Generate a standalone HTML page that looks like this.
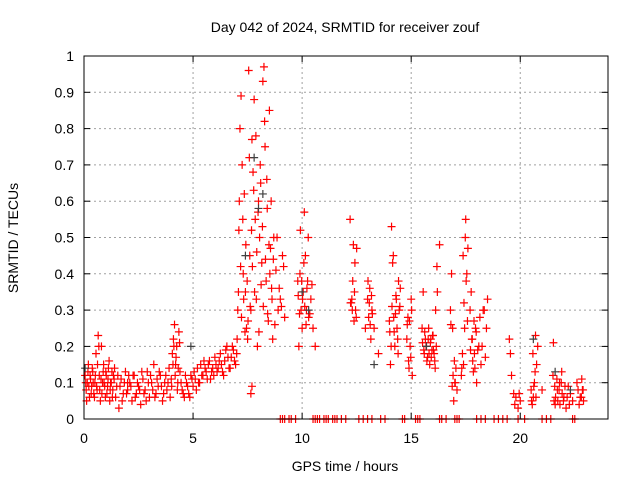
<!DOCTYPE html>
<html><head><meta charset="utf-8">
<style>
body{margin:0;background:#fff;}
svg{display:block;font-family:"Liberation Sans",sans-serif;}
</style></head>
<body>
<svg id="chart" width="640" height="480" xmlns="http://www.w3.org/2000/svg">
<rect width="640" height="480" fill="#fff"/>
<text x="345" y="32" font-size="14" text-anchor="middle">Day 042 of 2024, SRMTID for receiver zouf</text>
<text transform="translate(18,238) rotate(-90)" font-size="14" text-anchor="middle">SRMTID / TECUs</text>
<text x="345" y="471" font-size="14" text-anchor="middle">GPS time / hours</text>
<g id="grid"></g>
<g id="ticks"></g>
<g id="marks"></g>
<rect x="84" y="56" width="524" height="363" fill="none" stroke="#000" stroke-width="1"/>
</svg>
<script>
const xTicks=[0,5,10,15,20];
const yTicks=[0,0.1,0.2,0.3,0.4,0.5,0.6,0.7,0.8,0.9,1];
const yTickLabels=["0","0.1","0.2","0.3","0.4","0.5","0.6","0.7","0.8","0.9","1"];
const redX=[0.05,0.1,0.15,0.2,0.25,0.3,0.35,0.4,0.45,0.5,0.55,0.6,0.65,0.7,0.75,0.8,0.85,0.9,0.95,1.0,1.05,1.1,1.15,1.2,1.25,1.3,1.35,1.4,1.5,1.6,1.7,1.8,1.9,2.0,2.1,2.2,2.3,2.4,2.5,2.6,2.7,2.8,2.9,3.0,3.1,3.2,3.3,3.4,3.5,3.6,3.7,3.8,3.9,4.0,4.05,4.1,4.15,4.2,4.25,4.3,4.35,4.4,4.5,4.6,4.7,4.8,4.9,5.0,5.1,5.2,5.3,5.4,5.5,5.6,5.7,5.8,5.9,6.0,6.1,6.2,6.3,6.4,6.5,6.6,6.7,6.8,6.9,7.0,7.05,7.1,7.15,7.2,7.25,7.3,7.35,7.4,7.45,7.5,7.55,7.6,7.65,7.7,7.75,7.8,7.85,7.9,7.95,8.0,8.05,8.1,8.15,8.2,8.25,8.3,8.35,8.4,8.45,8.5,8.55,8.6,8.65,8.7,8.8,8.9,9.0,9.1,9.2,9.8,9.85,9.9,9.95,10.0,10.05,10.1,10.15,10.2,10.25,10.3,10.4,10.5,10.6,12.2,12.25,12.3,12.35,12.4,12.45,12.5,12.9,13.0,13.05,13.1,13.15,13.2,13.3,13.5,14.0,14.05,14.1,14.15,14.2,14.25,14.3,14.35,14.4,14.45,14.5,14.8,14.85,14.9,14.95,15.0,15.05,15.5,15.55,15.6,15.65,15.7,15.75,15.8,15.85,15.9,15.95,16.0,16.05,16.1,16.15,16.2,16.3,16.8,16.85,16.9,16.95,17.0,17.05,17.1,17.3,17.35,17.4,17.45,17.5,17.55,17.6,17.7,17.75,17.8,17.85,17.9,17.95,18.0,18.1,18.2,18.3,18.4,18.5,19.5,19.6,19.7,19.8,19.9,20.0,20.5,20.55,20.6,20.65,20.7,20.75,20.8,21.0,21.5,21.55,21.6,21.7,21.8,21.9,22.0,22.1,22.2,22.3,22.4,22.6,22.7,22.8,22.85,22.9,2.0,2.05,7.65,7.7,9.0,9.1,9.2,9.4,9.5,9.7,10.5,10.6,10.7,10.8,11.0,11.1,11.2,11.4,11.5,11.6,11.8,12.0,12.6,12.8,13.0,13.2,13.6,13.8,14.6,14.7,15.2,15.3,15.4,16.3,16.4,16.6,17.0,17.1,17.2,18.0,18.2,18.4,18.8,19.0,19.2,19.4,19.9,20.2,21.0,21.2,21.4,22.4,22.5];
const redY=[0.12,0.08,0.1,0.15,0.06,0.11,0.09,0.13,0.07,0.1,0.18,0.08,0.23,0.12,0.05,0.2,0.1,0.15,0.09,0.13,0.07,0.11,0.16,0.08,0.1,0.06,0.12,0.14,0.09,0.03,0.11,0.07,0.13,0.08,0.1,0.05,0.12,0.07,0.09,0.04,0.11,0.08,0.13,0.06,0.1,0.15,0.07,0.09,0.12,0.05,0.1,0.08,0.14,0.11,0.18,0.22,0.26,0.15,0.2,0.1,0.24,0.13,0.08,0.06,0.1,0.07,0.12,0.09,0.11,0.14,0.1,0.12,0.16,0.13,0.15,0.11,0.14,0.17,0.13,0.16,0.15,0.12,0.19,0.17,0.14,0.2,0.16,0.18,0.3,0.52,0.8,0.89,0.7,0.4,0.62,0.35,0.25,0.22,0.96,0.45,0.3,0.77,0.68,0.88,0.55,0.33,0.2,0.6,0.5,0.65,0.43,0.93,0.97,0.75,0.38,0.58,0.27,0.85,0.47,0.36,0.22,0.5,0.41,0.3,0.33,0.45,0.28,0.38,0.2,0.4,0.3,0.25,0.35,0.57,0.45,0.3,0.38,0.28,0.33,0.25,0.2,0.55,0.32,0.3,0.48,0.35,0.3,0.47,0.25,0.33,0.28,0.36,0.22,0.3,0.25,0.18,0.27,0.15,0.53,0.43,0.28,0.2,0.34,0.25,0.18,0.3,0.36,0.22,0.28,0.14,0.2,0.33,0.12,0.25,0.35,0.18,0.22,0.2,0.17,0.25,0.15,0.22,0.19,0.23,0.18,0.14,0.2,0.35,0.48,0.3,0.4,0.25,0.05,0.1,0.14,0.08,0.12,0.18,0.15,0.25,0.55,0.4,0.47,0.3,0.35,0.22,0.13,0.18,0.25,0.1,0.2,0.15,0.3,0.17,0.33,0.22,0.12,0.07,0.06,0.03,0.05,0.08,0.04,0.06,0.1,0.23,0.15,0.2,0.08,0.12,0.05,0.04,0.08,0.1,0.13,0.06,0.03,0.09,0.07,0.05,0.1,0.04,0.06,0.08,0.05,0.1,0.12,0.07,0.09,0,0,0,0,0,0,0,0,0,0,0,0,0,0,0,0,0,0,0,0,0,0,0,0,0,0,0,0,0,0,0,0,0,0,0,0,0,0,0,0,0,0,0,0,0,0,0,0,0,0,0];
const redX2=[0.08,0.12,0.18,0.22,0.28,0.33,0.38,0.42,0.48,0.52,0.58,0.62,0.68,0.72,0.78,0.82,0.88,0.92,0.98,1.02,1.08,1.12,1.18,1.22,1.28,1.32,1.38,1.45,1.55,1.65,1.75,1.85,1.95,2.15,2.25,2.35,2.45,2.55,2.65,2.75,2.85,2.95,3.05,3.15,3.25,3.35,3.45,3.55,3.65,3.75,3.85,3.95,4.02,4.08,4.12,4.18,4.22,4.28,4.32,4.38,4.45,4.55,4.65,4.75,4.85,4.95,5.05,5.15,5.25,5.35,5.45,5.55,5.65,5.75,5.85,5.95,6.05,6.15,6.25,6.35,6.45,6.55,6.65,6.75,6.85,6.95,7.02,7.08,7.12,7.18,7.22,7.28,7.32,7.38,7.42,7.48,7.52,7.58,7.62,7.68,7.72,7.78,7.82,7.88,7.92,7.98,8.02,8.08,8.12,8.18,8.22,8.28,8.32,8.38,8.42,8.48,8.52,8.58,8.62,8.68,8.75,8.85,8.95,9.05,9.15,9.82,9.88,9.92,9.98,10.02,10.08,10.12,10.18,10.22,10.28,10.35,10.45,12.22,12.28,12.32,12.38,12.42,12.48,13.02,13.08,13.12,13.18,13.22,14.02,14.08,14.12,14.18,14.22,14.28,14.32,14.38,14.42,14.48,14.82,14.88,14.92,14.98,15.02,15.52,15.58,15.62,15.68,15.72,15.78,15.82,15.88,15.92,15.98,16.02,16.08,16.12,16.18,16.82,16.88,16.92,16.98,17.02,17.32,17.38,17.42,17.48,17.52,17.58,17.72,17.78,17.82,17.88,17.92,17.98,18.05,18.15,18.25,18.35,18.45,19.55,19.75,19.95,20.52,20.58,20.62,20.68,20.72,21.52,21.58,21.62,21.68,21.72,21.78,21.82,21.88,21.92,21.98,22.05,22.15,22.25,22.65,22.75,22.82,22.88];
const redY2=[0.1,0.05,0.13,0.09,0.12,0.07,0.14,0.1,0.06,0.12,0.09,0.15,0.2,0.08,0.11,0.07,0.13,0.1,0.06,0.12,0.09,0.14,0.05,0.1,0.13,0.08,0.11,0.06,0.12,0.09,0.05,0.1,0.07,0.09,0.12,0.06,0.1,0.08,0.13,0.07,0.05,0.1,0.12,0.08,0.06,0.11,0.13,0.09,0.07,0.12,0.1,0.06,0.09,0.15,0.2,0.12,0.17,0.08,0.14,0.21,0.1,0.07,0.12,0.09,0.06,0.11,0.13,0.08,0.1,0.15,0.12,0.14,0.11,0.16,0.13,0.12,0.15,0.14,0.18,0.13,0.16,0.2,0.14,0.17,0.19,0.15,0.22,0.35,0.6,0.42,0.28,0.55,0.33,0.24,0.48,0.38,0.27,0.72,0.31,0.52,0.42,0.63,0.35,0.78,0.46,0.57,0.24,0.7,0.37,0.53,0.31,0.82,0.44,0.66,0.29,0.48,0.4,0.6,0.33,0.44,0.26,0.5,0.36,0.31,0.42,0.34,0.29,0.52,0.38,0.33,0.43,0.31,0.26,0.36,0.5,0.29,0.37,0.32,0.33,0.38,0.27,0.43,0.28,0.38,0.32,0.26,0.34,0.29,0.24,0.2,0.31,0.45,0.24,0.29,0.33,0.22,0.38,0.31,0.26,0.16,0.27,0.17,0.3,0.21,0.19,0.24,0.2,0.16,0.22,0.18,0.21,0.17,0.23,0.19,0.16,0.3,0.42,0.26,0.09,0.12,0.16,0.1,0.14,0.45,0.32,0.5,0.38,0.27,0.19,0.22,0.16,0.27,0.14,0.24,0.19,0.28,0.2,0.3,0.25,0.18,0.04,0.07,0.05,0.18,0.09,0.13,0.06,0.21,0.09,0.06,0.11,0.05,0.08,0.04,0.1,0.07,0.05,0.09,0.06,0.04,0.08,0.06,0.11,0.08,0.07];
const grayX=[0.05,4.9,7.4,7.8,8.0,8.2,10.0,10.3,13.3,15.7,20.6,21.6,22.3];
const grayY=[0.14,0.2,0.45,0.72,0.58,0.62,0.35,0.3,0.15,0.2,0.22,0.13,0.08];
const X0=84,X1=607.5,Y0=419,Y1=56,XMAX=24,YMAX=1;
function xs(v){return X0+(X1-X0)*v/XMAX;}
function ys(v){return Y0-(Y0-Y1)*v/YMAX;}
const NS="http://www.w3.org/2000/svg";
const grid=document.getElementById('grid'),ticks=document.getElementById('ticks'),marks=document.getElementById('marks');
function mk(t,a,p){const e=document.createElementNS(NS,t);for(const k in a)e.setAttribute(k,a[k]);p.appendChild(e);return e;}
yTicks.forEach((v,i)=>{
  const y=ys(v);
  if(i>0&&i<yTicks.length-1){const g=mk('line',{x1:X0,x2:X1,y1:y,y2:y,stroke:'#a0a0a0','stroke-dasharray':'2,3','stroke-width':1},grid);
  
  }
  const t=mk('text',{x:X0-10,y:y+5,'font-size':14,'text-anchor':'end'},ticks);t.textContent=yTickLabels[i];
  
  
  mk('line',{x1:X0,x2:X0+6,y1:y,y2:y,stroke:'#000'},ticks);
  mk('line',{x1:X1,x2:X1-6,y1:y,y2:y,stroke:'#000'},ticks);
});
xTicks.forEach(v=>{
  const x=xs(v);
  if(v>0){const g=mk('line',{x1:x,x2:x,y1:Y0,y2:Y1,stroke:'#a0a0a0','stroke-dasharray':'2,3','stroke-width':1},grid);
  
  }
  const t=mk('text',{x:x,y:Y0+24,'font-size':14,'text-anchor':'middle'},ticks);t.textContent=String(v);
  
  
  mk('line',{x1:x,x2:x,y1:Y0,y2:Y0-6,stroke:'#000'},ticks);
  mk('line',{x1:x,x2:x,y1:Y1,y2:Y1+6,stroke:'#000'},ticks);
});
function plus(x,y,c,name){
  const p=mk('path',{d:`M${x-4},${y}h8M${x},${y-4}v8`,stroke:c,'stroke-width':1.2,fill:'none'},marks);
  
  
}
redX.forEach((v,i)=>plus(xs(v),ys(redY[i]),'#ff0000','red-point'));
redX2.forEach((v,i)=>plus(xs(v),ys(redY2[i]),'#ff0000','red-point'));
grayX.forEach((v,i)=>plus(xs(v),ys(grayY[i]),'#404040','gray-point'));
</script>
</body></html>
